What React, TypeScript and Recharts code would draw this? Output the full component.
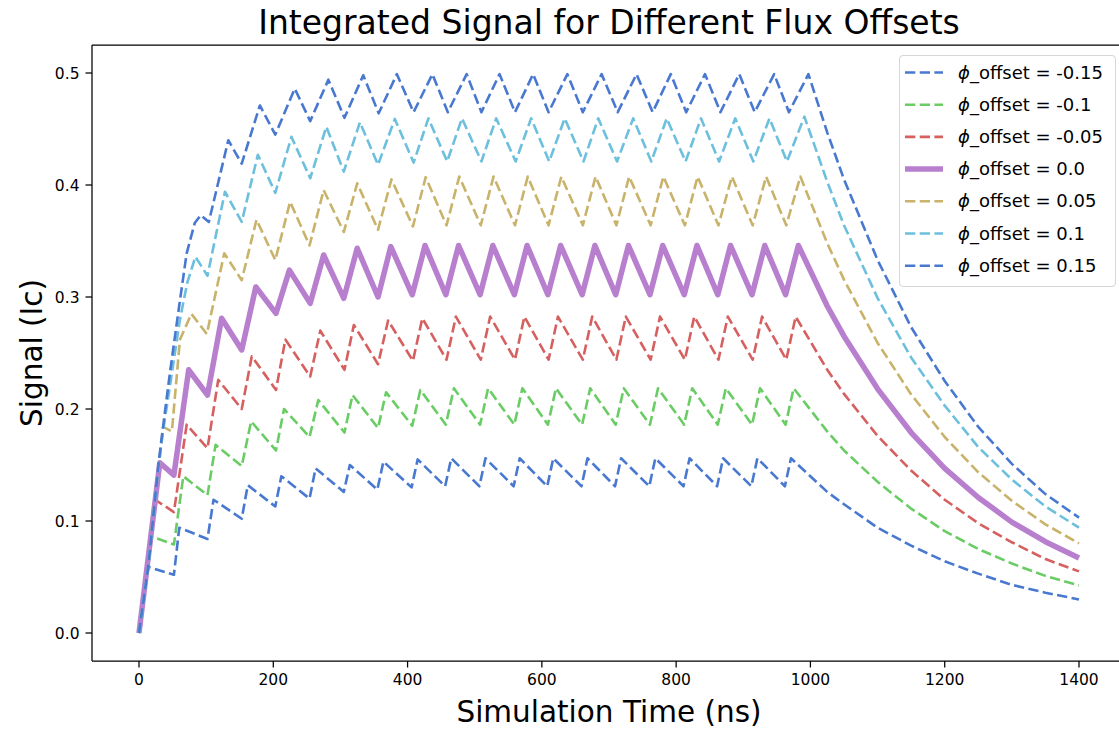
import { LineChart, Line, XAxis, YAxis, ReferenceLine } from 'recharts'

type Pair = [number, number]

const FONT = '"DejaVu Sans", sans-serif'

const offsets = ['-0.15', '-0.1', '-0.05', '0.0', '0.05', '0.1', '0.15']
const colors = ['#4878d0', '#6acc64', '#d65f5f', '#b77fce', '#c9b26a', '#6cbfdd', '#4878d0']
const xTicks = [0, 200, 400, 600, 800, 1000, 1200, 1400]
const yTicks = [0, 0.1, 0.2, 0.3, 0.4, 0.5]

// [time (ns), signal (Ic)] vertices
const phiM015: Pair[] = [
  [0, 0], [14, 0.059], [52, 0.052], [60, 0.094], [102, 0.084], [111, 0.119], [153, 0.102], [162, 0.132],
  [203, 0.113], [212, 0.14], [254, 0.12], [263, 0.147], [305, 0.126], [314, 0.15], [355, 0.128], [364, 0.153],
  [406, 0.13], [415, 0.155], [456, 0.131], [465, 0.156], [507, 0.131], [516, 0.156], [558, 0.131], [567, 0.156],
  [608, 0.131], [617, 0.156], [659, 0.131], [668, 0.156], [709, 0.131], [718, 0.156], [760, 0.131], [769, 0.156],
  [811, 0.131], [820, 0.156], [861, 0.131], [870, 0.156], [912, 0.131], [921, 0.156], [962, 0.131], [971, 0.156],
  [1025, 0.126], [1050, 0.115], [1100, 0.094], [1150, 0.078], [1200, 0.064], [1250, 0.053], [1300, 0.043],
  [1350, 0.036], [1400, 0.03],
]

const phiM010: Pair[] = [
  [0, 0], [19, 0.086], [52, 0.079], [66, 0.14], [102, 0.123], [114, 0.168], [153, 0.149], [167, 0.189],
  [204, 0.163], [216, 0.2], [254, 0.175], [267, 0.208], [306, 0.179], [318, 0.2125], [356, 0.183], [368, 0.215],
  [407, 0.185], [419, 0.217], [457, 0.186], [469, 0.2185], [508, 0.186], [520, 0.2185], [559, 0.186], [571, 0.2185],
  [609, 0.186], [621, 0.2185], [660, 0.186], [672, 0.2185], [710, 0.186], [722, 0.2185], [761, 0.186], [773, 0.2185],
  [812, 0.186], [824, 0.2185], [862, 0.186], [874, 0.2185], [913, 0.186], [925, 0.2185], [963, 0.186], [975, 0.2185],
  [1025, 0.18], [1050, 0.163], [1100, 0.135], [1150, 0.111], [1200, 0.091], [1250, 0.075], [1300, 0.062],
  [1350, 0.051], [1400, 0.0425],
]

const phiM005: Pair[] = [
  [0, 0], [24, 0.119], [52, 0.108], [71, 0.186], [102, 0.165], [118, 0.226], [153, 0.2], [168, 0.247],
  [204, 0.217], [218, 0.262], [255, 0.229], [270, 0.27], [306, 0.235], [320, 0.275], [356, 0.24], [371, 0.279],
  [408, 0.243], [422, 0.281], [458, 0.244], [472, 0.2825], [509, 0.244], [523, 0.2825], [560, 0.244], [574, 0.2825],
  [610, 0.244], [624, 0.2825], [661, 0.244], [675, 0.2825], [711, 0.244], [725, 0.2825], [762, 0.244], [776, 0.2825],
  [813, 0.244], [827, 0.2825], [863, 0.244], [877, 0.2825], [914, 0.244], [928, 0.2825], [964, 0.244], [978, 0.2825],
  [1025, 0.235], [1050, 0.2135], [1100, 0.176], [1150, 0.145], [1200, 0.119], [1250, 0.098], [1300, 0.081],
  [1350, 0.066], [1400, 0.055],
]

const phi000: Pair[] = [
  [0, 0], [31, 0.152], [52, 0.141], [74, 0.235], [102, 0.2125], [123, 0.281], [153, 0.2527], [174, 0.309],
  [204, 0.2854], [224, 0.324], [255, 0.2943], [275, 0.3375], [305, 0.2988], [325, 0.3435], [356, 0.3], [375, 0.345],
  [407, 0.302], [426, 0.346], [457, 0.302], [476, 0.346], [508, 0.302], [527, 0.346], [559, 0.302], [578, 0.346],
  [609, 0.302], [628, 0.346], [660, 0.302], [679, 0.346], [710, 0.302], [729, 0.346], [761, 0.302], [780, 0.346],
  [812, 0.302], [831, 0.346], [862, 0.302], [881, 0.346], [913, 0.302], [932, 0.346], [963, 0.302], [982, 0.346],
  [1025, 0.292], [1050, 0.265], [1100, 0.218], [1150, 0.179], [1200, 0.147], [1250, 0.121], [1300, 0.099],
  [1350, 0.0815], [1400, 0.067],
]

const phi005: Pair[] = [
  [0, 0], [14, 0.059], [23, 0.118], [30, 0.152], [36, 0.184], [49, 0.18], [61, 0.262], [78, 0.285],
  [101, 0.267], [127, 0.339], [153, 0.315], [175, 0.369], [203, 0.333], [225, 0.385], [254, 0.346], [275, 0.3955],
  [305, 0.358], [325, 0.4015], [356, 0.36], [376, 0.405], [408, 0.363], [427, 0.407], [458, 0.364], [477, 0.4075],
  [509, 0.364], [528, 0.4075], [560, 0.364], [579, 0.4075], [610, 0.364], [629, 0.4075], [661, 0.364], [680, 0.4075],
  [711, 0.364], [730, 0.4075], [762, 0.364], [781, 0.4075], [813, 0.364], [832, 0.4075], [863, 0.364], [883, 0.4075],
  [914, 0.364], [934, 0.4075], [964, 0.364], [985, 0.4075],
  [1025, 0.348], [1050, 0.3155], [1100, 0.259], [1150, 0.213], [1200, 0.175], [1250, 0.1435], [1300, 0.118],
  [1350, 0.097], [1400, 0.08],
]

const phi010: Pair[] = [
  [0, 0], [14, 0.06], [24, 0.12], [30, 0.153], [36, 0.181], [48, 0.228], [61, 0.28], [72, 0.313], [84, 0.336],
  [102, 0.319], [128, 0.394], [153, 0.367], [177, 0.427], [203, 0.393], [227, 0.443], [255, 0.406], [279, 0.452],
  [305, 0.412], [329, 0.456], [356, 0.418], [381, 0.459], [409, 0.42], [431, 0.4595], [459, 0.421], [481, 0.4595],
  [510, 0.421], [532, 0.4595], [561, 0.421], [584, 0.4595], [611, 0.421], [634, 0.4595], [662, 0.421], [684, 0.4595],
  [712, 0.421], [736, 0.4595], [763, 0.421], [786, 0.4595], [814, 0.421], [837, 0.4595], [864, 0.421], [888, 0.4595],
  [915, 0.421], [939, 0.4595], [965, 0.421], [991, 0.461],
  [1025, 0.403], [1050, 0.364], [1100, 0.299], [1150, 0.246], [1200, 0.203], [1250, 0.166], [1300, 0.137],
  [1350, 0.113], [1400, 0.094],
]

const phi015: Pair[] = [
  [0, 0], [14, 0.06], [24, 0.121], [30, 0.156], [36, 0.185], [46, 0.232], [61, 0.297], [71, 0.339], [83, 0.366],
  [92, 0.373], [104, 0.367], [133, 0.44], [153, 0.419], [180, 0.471], [203, 0.445], [232, 0.486], [255, 0.457],
  [282, 0.494], [306, 0.46], [334, 0.498], [357, 0.464], [384, 0.499], [409, 0.465], [437, 0.499], [460, 0.465],
  [488, 0.499], [510, 0.465], [537, 0.499], [560, 0.465], [587, 0.499], [610, 0.465], [638, 0.499], [661, 0.465],
  [689, 0.499], [713, 0.465], [741, 0.499], [765, 0.465], [792, 0.499], [815, 0.465], [843, 0.499], [866, 0.465],
  [894, 0.499], [917, 0.465], [946, 0.499], [968, 0.465], [997, 0.499],
  [1025, 0.447], [1050, 0.405], [1100, 0.333], [1150, 0.273], [1200, 0.225], [1250, 0.184], [1300, 0.151],
  [1350, 0.124], [1400, 0.103],
]

const seriesValues = [phiM015, phiM010, phiM005, phi000, phi005, phi010, phi015]

const toPoints = (pairs: Pair[]) => pairs.map(([t, v]) => ({ t, v }))

const axisStyle = { stroke: '#000', strokeWidth: 1.25 }
const tickStyle = { fill: '#000', fontSize: 15.5, fontFamily: FONT }

function LegendBox() {
  return (
    <div
      style={{
        position: 'absolute',
        left: 899,
        top: 55,
        width: 217,
        height: 232,
        boxSizing: 'border-box',
        border: '1px solid #d6d6d6',
        borderRadius: 4,
        background: 'rgba(255,255,255,0.8)',
      }}
    >
      <svg width={215} height={230} style={{ display: 'block' }}>
        {offsets.map((label, i) => {
          const y = 16.5 + i * 32.2
          const solid = i === 3
          return (
            <g key={label}>
              <line
                x1={5}
                x2={43}
                y1={y}
                y2={y}
                stroke={colors[i]}
                strokeWidth={solid ? 5.5 : 2.6}
                strokeDasharray={solid ? undefined : '10.3 4.4'}
              />
              <text x={58} y={y + 6} fontSize={18} fontFamily={FONT} fill="#000">
                <tspan fontStyle="italic">ϕ</tspan>_offset = {label}
              </text>
            </g>
          )
        })}
      </svg>
    </div>
  )
}

export default function App() {
  return (
    <div
      style={{
        position: 'absolute',
        left: 0,
        top: 0,
        width: 1119,
        height: 733,
        overflow: 'hidden',
        background: '#fff',
        fontFamily: FONT,
      }}
    >
      <svg width={1119} height={45} style={{ position: 'absolute', left: 0, top: 0 }}>
        <text x={609} y={34} textAnchor="middle" fontSize={33} fontFamily={FONT} fill="#000">
          Integrated Signal for Different Flux Offsets
        </text>
      </svg>
      <div style={{ position: 'absolute', left: 0, top: 0 }}>
        <LineChart width={1130} height={733} margin={{ top: 45, right: 4, bottom: 0, left: 0 }}>
          <XAxis
            dataKey="t"
            type="number"
            domain={[-70, 1470]}
            ticks={xTicks}
            interval={0}
            allowDataOverflow
            height={72}
            tickSize={6.5}
            tickMargin={6}
            axisLine={axisStyle}
            tickLine={axisStyle}
            tick={tickStyle}
            label={{
              value: 'Simulation Time (ns)',
              position: 'insideBottom',
              offset: 11,
              fontSize: 29.5,
              fill: '#000',
              fontFamily: FONT,
            }}
          />
          <YAxis
            type="number"
            domain={[-0.025, 0.525]}
            ticks={yTicks}
            interval={0}
            allowDataOverflow
            width={92}
            tickSize={6.5}
            tickMargin={6}
            tickFormatter={(v: number) => v.toFixed(1)}
            axisLine={axisStyle}
            tickLine={axisStyle}
            tick={tickStyle}
            label={{
              value: 'Signal (Ic)',
              angle: -90,
              position: 'insideLeft',
              offset: 32,
              fontSize: 29.5,
              fill: '#000',
              fontFamily: FONT,
              style: { textAnchor: 'middle' },
            }}
          />
          <ReferenceLine y={0.525} stroke="#000" strokeWidth={1.25} />
          {seriesValues.map((pairs, i) => (
            <Line
              key={offsets[i]}
              name={`ϕ_offset = ${offsets[i]}`}
              data={toPoints(pairs)}
              dataKey="v"
              type="linear"
              stroke={colors[i]}
              strokeWidth={i === 3 ? 5.5 : 2.6}
              strokeDasharray={i === 3 ? undefined : '10.3 4.4'}
              strokeLinejoin="round"
              dot={false}
              activeDot={false}
              isAnimationActive={false}
            />
          ))}
        </LineChart>
      </div>
      <LegendBox />
    </div>
  )
}
